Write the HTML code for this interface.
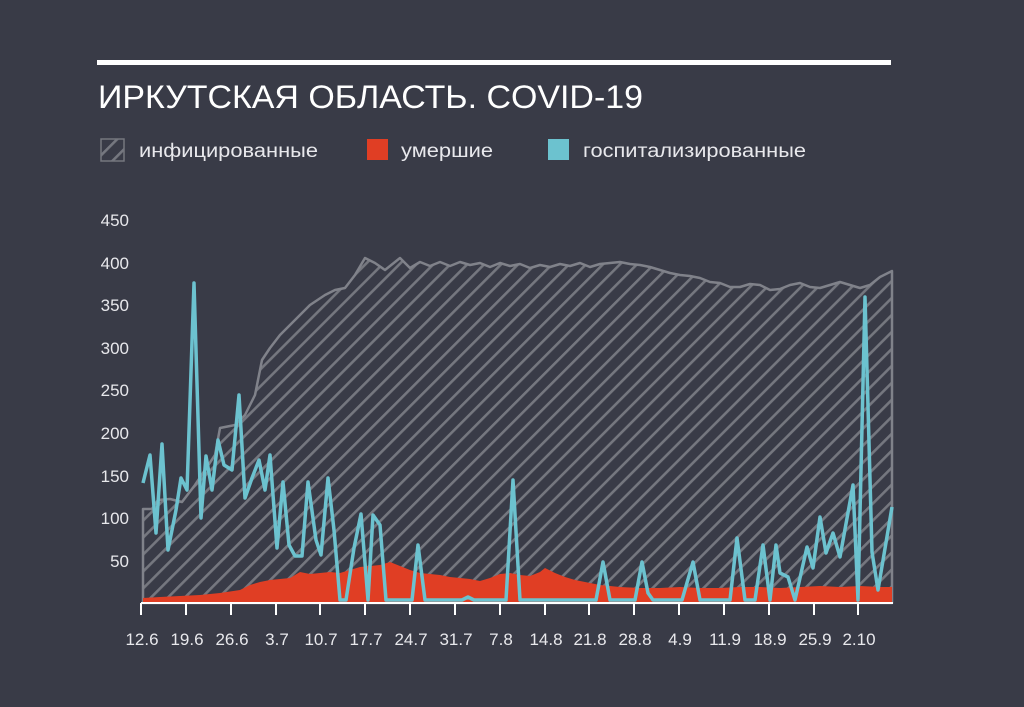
<!DOCTYPE html>
<html><head><meta charset="utf-8"><style>
html,body{margin:0;padding:0;background:#393b47;}
svg{display:block}
text{font-family:"Liberation Sans","DejaVu Sans",sans-serif;fill:#e8e8ec}
</style></head><body>
<svg width="1024" height="707" viewBox="0 0 1024 707">
<defs>
<pattern id="h" patternUnits="userSpaceOnUse" width="12" height="12" patternTransform="rotate(45)">
<rect width="12" height="12" fill="#393b47"/>
<rect x="0" y="0" width="2.6" height="12" fill="#75777f"/>
</pattern>
</defs>
<rect width="1024" height="707" fill="#393b47"/>
<rect x="97" y="60" width="794" height="5" fill="#fff"/>
<text x="98" y="108" font-size="32" textLength="545" lengthAdjust="spacingAndGlyphs" style="fill:#fff">ИРКУТСКАЯ ОБЛАСТЬ. COVID-19</text>
<rect x="101" y="139" width="23" height="22" fill="url(#h)" stroke="#75777f" stroke-width="1.5"/>
<text x="139" y="157" font-size="19" textLength="179" lengthAdjust="spacingAndGlyphs">инфицированные</text>
<rect x="367" y="139" width="21" height="21" fill="#e03e24"/>
<text x="401" y="157" font-size="19" textLength="92" lengthAdjust="spacingAndGlyphs">умершие</text>
<rect x="548" y="139" width="21" height="21" fill="#6cc2cf"/>
<text x="583" y="157" font-size="19" textLength="223" lengthAdjust="spacingAndGlyphs">госпитализированные</text>
<g font-size="17" text-anchor="end">
<text x="129" y="226">450</text><text x="129" y="269">400</text><text x="129" y="311">350</text><text x="129" y="354">300</text><text x="129" y="396">250</text><text x="129" y="439">200</text><text x="129" y="482">150</text><text x="129" y="524">100</text><text x="129" y="567">50</text>
</g>
<polygon fill="url(#h)" stroke="#80828a" stroke-width="2.5" stroke-linejoin="round" points="143,603 143,509 152,509 158,500 170,499 182,502 195,485 205,470 215,455 220,428 235,425 245,415 255,395 262,360 270,348 280,335 295,320 310,305 325,295 335,290 345,288 355,275 365,258 375,263 385,270 395,262 400,258 410,268 420,262 430,266 440,262 450,266 460,262 470,265 480,263 490,267 500,263 510,266 520,264 530,268 540,265 550,267 560,264 570,266 580,263 590,267 600,264 610,263 620,262 630,264 640,265 650,267 660,270 670,273 680,275 690,276 700,278 710,282 720,283 730,287 740,287 750,284 760,285 770,290 780,289 790,285 800,283 810,287 820,288 830,285 840,282 850,285 860,288 870,285 880,277 892,271 892,603"/>
<polygon fill="#e03e24" points="143,603 143,598 160,597 180,596 200,595 220,593 240,590 250,585 260,582 270,580 280,579 290,578 300,572 310,574 320,573 330,572 340,573 350,570 360,567 370,566 380,565 390,562 400,566 410,570 420,573 430,574 440,575 450,577 460,578 470,579 480,581 490,578 500,574 510,573 520,575 530,576 540,572 545,568 555,573 565,577 575,580 585,582 600,585 620,587 640,588 660,588 680,587 700,588 720,588 740,587 760,587 780,588 800,587 820,586 840,587 860,586 880,587 892,587 892,603"/>
<polyline fill="none" stroke="#6cc2cf" stroke-width="3.5" stroke-linejoin="round" points="143,483 150,455 156,533 162,444 168,550 176,510 181,478 187,490 194,283 201,518 206,456 212,490 218,440 224,465 232,470 239,395 245,498 252,478 259,460 265,490 270,455 277,548 283,482 289,545 295,556 302,556 308,482 316,540 321,555 328,478 334,530 340,600 346,600 354,548 361,514 368,600 373,515 380,525 386,600 412,600 418,545 425,600 462,600 468,597 474,600 506,600 513,480 520,600 596,600 603,562 610,600 635,600 642,562 648,593 653,600 682,600 693,562 700,600 730,600 737,538 745,600 755,600 763,545 770,600 776,545 780,573 788,577 795,600 807,547 813,568 820,517 826,553 833,533 840,557 853,485 858,600 865,297 872,552 878,590 892,507"/>
<line x1="141" y1="603" x2="893" y2="603" stroke="#fff" stroke-width="2"/>
<g stroke="#fff" stroke-width="2">
<line x1="141" y1="603" x2="141" y2="615"/><line x1="186" y1="603" x2="186" y2="615"/><line x1="231" y1="603" x2="231" y2="615"/><line x1="276" y1="603" x2="276" y2="615"/><line x1="320" y1="603" x2="320" y2="615"/><line x1="365" y1="603" x2="365" y2="615"/><line x1="410" y1="603" x2="410" y2="615"/><line x1="455" y1="603" x2="455" y2="615"/><line x1="500" y1="603" x2="500" y2="615"/><line x1="545" y1="603" x2="545" y2="615"/><line x1="589" y1="603" x2="589" y2="615"/><line x1="634" y1="603" x2="634" y2="615"/><line x1="679" y1="603" x2="679" y2="615"/><line x1="724" y1="603" x2="724" y2="615"/><line x1="769" y1="603" x2="769" y2="615"/><line x1="814" y1="603" x2="814" y2="615"/><line x1="858" y1="603" x2="858" y2="615"/>
</g>
<g font-size="17" text-anchor="middle">
<text x="142" y="645">12.6</text><text x="187" y="645">19.6</text><text x="232" y="645">26.6</text><text x="277" y="645">3.7</text><text x="321" y="645">10.7</text><text x="366" y="645">17.7</text><text x="411" y="645">24.7</text><text x="456" y="645">31.7</text><text x="501" y="645">7.8</text><text x="546" y="645">14.8</text><text x="590" y="645">21.8</text><text x="635" y="645">28.8</text><text x="680" y="645">4.9</text><text x="725" y="645">11.9</text><text x="770" y="645">18.9</text><text x="815" y="645">25.9</text><text x="859" y="645">2.10</text>
</g>
</svg>
</body></html>
